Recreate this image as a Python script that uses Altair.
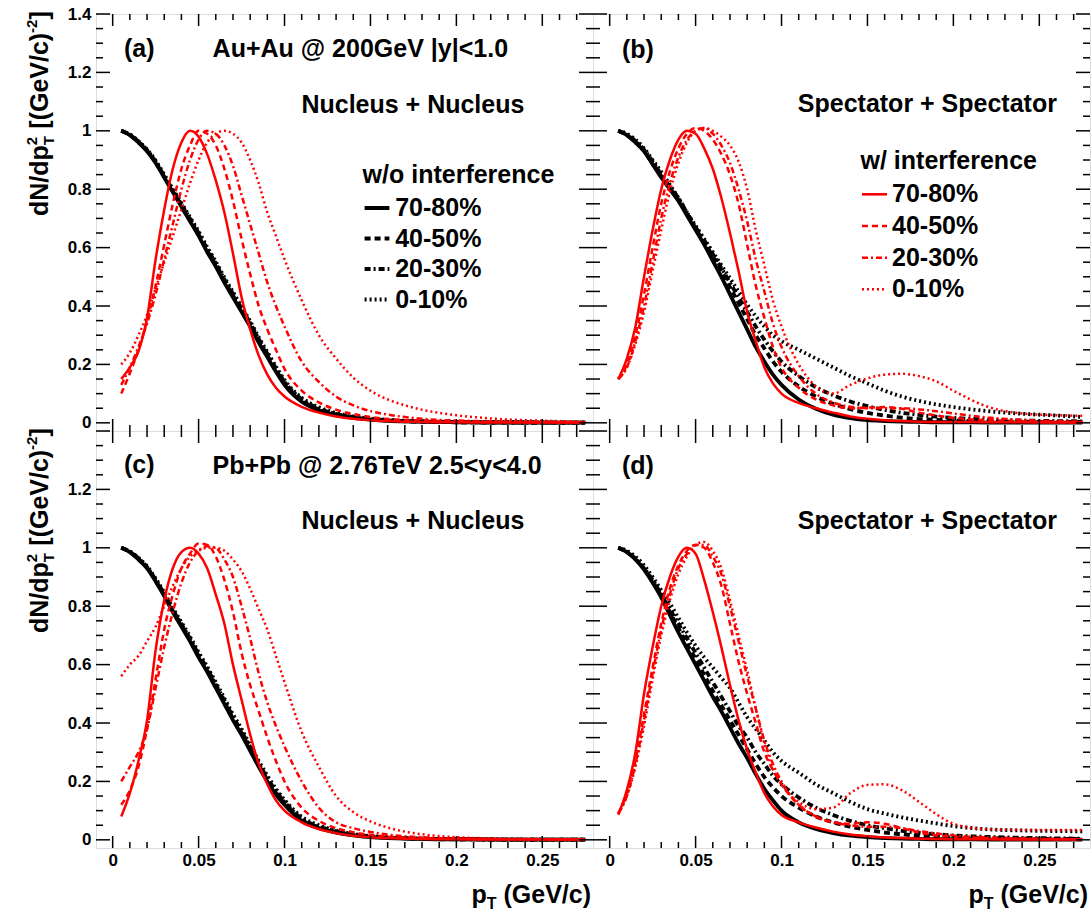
import altair as alt
import pandas as pd

# ---------------- data ----------------
PT = [0.005, 0.01, 0.015, 0.02, 0.025, 0.03, 0.035, 0.04, 0.045, 0.05,
      0.055, 0.06, 0.065, 0.07, 0.075, 0.08, 0.085, 0.09, 0.095, 0.1,
      0.11, 0.12, 0.13, 0.14, 0.15, 0.16, 0.17, 0.18, 0.19, 0.2,
      0.22, 0.24, 0.26, 0.275]

CENTS = ["70-80%", "40-50%", "20-30%", "0-10%"]

# (a) Au+Au Nucleus + Nucleus
A_BLK_7080 = [1.0, 0.985, 0.96, 0.93, 0.89, 0.84, 0.79, 0.74, 0.69, 0.64, 0.585, 0.535, 0.48, 0.43, 0.38, 0.33, 0.275, 0.225, 0.175, 0.13, 0.072, 0.043, 0.027, 0.017, 0.011, 0.007, 0.005, 0.004, 0.003, 0.002, 0.001, 0.001, 0.001, 0.001]
A_BLK_4050 = [1.0, 0.986, 0.962, 0.932, 0.892, 0.843, 0.793, 0.744, 0.694, 0.645, 0.59, 0.54, 0.486, 0.436, 0.386, 0.336, 0.281, 0.231, 0.181, 0.136, 0.077, 0.046, 0.029, 0.018, 0.012, 0.008, 0.005, 0.004, 0.003, 0.002, 0.001, 0.001, 0.001, 0.001]
A_BLK_2030 = [1.0, 0.987, 0.963, 0.934, 0.895, 0.846, 0.797, 0.748, 0.699, 0.65, 0.596, 0.546, 0.492, 0.442, 0.392, 0.342, 0.287, 0.237, 0.187, 0.141, 0.081, 0.049, 0.031, 0.02, 0.013, 0.009, 0.006, 0.004, 0.003, 0.002, 0.002, 0.001, 0.001, 0.001]
A_BLK_010 = [1.0, 0.988, 0.965, 0.936, 0.898, 0.85, 0.801, 0.753, 0.704, 0.656, 0.602, 0.552, 0.498, 0.448, 0.398, 0.348, 0.293, 0.243, 0.193, 0.147, 0.086, 0.053, 0.034, 0.022, 0.015, 0.01, 0.007, 0.005, 0.004, 0.003, 0.002, 0.002, 0.001, 0.001]
A_RED_7080 = [0.15, 0.19, 0.245, 0.36, 0.56, 0.73, 0.87, 0.96, 1.0, 0.98, 0.92, 0.83, 0.72, 0.58, 0.43, 0.32, 0.23, 0.165, 0.12, 0.09, 0.055, 0.035, 0.022, 0.014, 0.009, 0.006, 0.004, 0.003, 0.002, 0.002, 0.001, 0.001, 0.001, 0.001]
A_RED_4050 = [0.10, 0.17, 0.25, 0.35, 0.47, 0.61, 0.75, 0.87, 0.95, 1.0, 0.99, 0.95, 0.87, 0.76, 0.63, 0.51, 0.40, 0.32, 0.25, 0.185, 0.11, 0.07, 0.045, 0.03, 0.02, 0.013, 0.009, 0.007, 0.005, 0.004, 0.003, 0.002, 0.002, 0.001]
A_RED_2030 = [0.13, 0.19, 0.26, 0.34, 0.44, 0.56, 0.68, 0.8, 0.9, 0.97, 1.0, 0.99, 0.95, 0.88, 0.78, 0.68, 0.58, 0.48, 0.40, 0.33, 0.21, 0.14, 0.09, 0.06, 0.04, 0.028, 0.02, 0.014, 0.01, 0.008, 0.005, 0.003, 0.002, 0.002]
A_RED_010 = [0.2, 0.24, 0.3, 0.37, 0.46, 0.55, 0.64, 0.73, 0.82, 0.9, 0.96, 0.99, 1.0, 0.99, 0.96, 0.9, 0.82, 0.72, 0.64, 0.56, 0.42, 0.3, 0.22, 0.155, 0.11, 0.08, 0.06, 0.045, 0.034, 0.026, 0.015, 0.009, 0.006, 0.004]

# (b) Au+Au Spectator + Spectator
B_BLK_7080 = [1.0, 0.985, 0.96, 0.93, 0.885, 0.84, 0.8, 0.76, 0.71, 0.66, 0.61, 0.555, 0.5, 0.44, 0.38, 0.32, 0.26, 0.21, 0.165, 0.13, 0.08, 0.048, 0.028, 0.016, 0.009, 0.006, 0.004, 0.003, 0.002, 0.002, 0.001, 0.001, 0.001, 0.001]
B_BLK_4050 = [1.0, 0.985, 0.962, 0.932, 0.89, 0.845, 0.805, 0.765, 0.715, 0.665, 0.62, 0.57, 0.52, 0.465, 0.41, 0.355, 0.3, 0.255, 0.21, 0.175, 0.125, 0.09, 0.065, 0.047, 0.034, 0.025, 0.018, 0.013, 0.01, 0.008, 0.005, 0.004, 0.003, 0.003]
B_BLK_2030 = [1.0, 0.987, 0.965, 0.935, 0.895, 0.85, 0.81, 0.77, 0.72, 0.67, 0.625, 0.578, 0.53, 0.48, 0.43, 0.38, 0.33, 0.285, 0.245, 0.21, 0.16, 0.122, 0.095, 0.073, 0.057, 0.044, 0.034, 0.027, 0.021, 0.017, 0.011, 0.008, 0.006, 0.005]
B_BLK_010 = [1.0, 0.99, 0.97, 0.94, 0.9, 0.86, 0.815, 0.77, 0.72, 0.675, 0.63, 0.585, 0.54, 0.495, 0.45, 0.405, 0.365, 0.33, 0.3, 0.28, 0.25, 0.22, 0.19, 0.16, 0.135, 0.11, 0.09, 0.075, 0.063, 0.054, 0.04, 0.031, 0.025, 0.02]
B_RED_7080 = [0.15, 0.22, 0.33, 0.5, 0.66, 0.8, 0.9, 0.97, 1.0, 0.99, 0.94, 0.87, 0.77, 0.65, 0.52, 0.38, 0.28, 0.19, 0.135, 0.1, 0.068, 0.05, 0.035, 0.022, 0.014, 0.009, 0.006, 0.004, 0.003, 0.003, 0.002, 0.002, 0.001, 0.001]
B_RED_4050 = [0.15, 0.2, 0.3, 0.44, 0.6, 0.75, 0.86, 0.94, 0.99, 1.01, 1.0, 0.97, 0.92, 0.85, 0.75, 0.61, 0.47, 0.36, 0.26, 0.19, 0.12, 0.08, 0.06, 0.05, 0.052, 0.054, 0.048, 0.035, 0.025, 0.017, 0.009, 0.005, 0.003, 0.002]
B_RED_2030 = [0.15, 0.19, 0.28, 0.4, 0.55, 0.7, 0.82, 0.91, 0.97, 1.0, 1.01, 0.99, 0.95, 0.89, 0.8, 0.69, 0.56, 0.45, 0.34, 0.26, 0.16, 0.1, 0.07, 0.055, 0.05, 0.05, 0.05, 0.046, 0.04, 0.032, 0.018, 0.01, 0.006, 0.004]
B_RED_010 = [0.15, 0.19, 0.27, 0.38, 0.52, 0.66, 0.79, 0.89, 0.96, 1.0, 1.01, 1.0, 0.98, 0.95, 0.895, 0.8, 0.66, 0.54, 0.42, 0.33, 0.2, 0.125, 0.1, 0.13, 0.152, 0.165, 0.168, 0.16, 0.142, 0.11, 0.055, 0.032, 0.026, 0.024]

# (c) Pb+Pb Nucleus + Nucleus
C_BLK_7080 = [1.0, 0.985, 0.96, 0.93, 0.885, 0.835, 0.78, 0.73, 0.68, 0.625, 0.575, 0.52, 0.465, 0.41, 0.36, 0.305, 0.25, 0.2, 0.155, 0.12, 0.065, 0.04, 0.025, 0.015, 0.009, 0.006, 0.004, 0.003, 0.002, 0.002, 0.001, 0.001, 0.001, 0.001]
C_BLK_4050 = [1.0, 0.986, 0.962, 0.932, 0.888, 0.838, 0.784, 0.734, 0.684, 0.63, 0.58, 0.526, 0.471, 0.416, 0.366, 0.311, 0.256, 0.206, 0.161, 0.125, 0.069, 0.043, 0.027, 0.016, 0.01, 0.007, 0.005, 0.003, 0.002, 0.002, 0.001, 0.001, 0.001, 0.001]
C_BLK_2030 = [1.0, 0.987, 0.964, 0.934, 0.891, 0.842, 0.788, 0.739, 0.689, 0.636, 0.586, 0.532, 0.477, 0.422, 0.372, 0.317, 0.262, 0.212, 0.167, 0.13, 0.073, 0.046, 0.029, 0.018, 0.011, 0.008, 0.005, 0.004, 0.003, 0.002, 0.001, 0.001, 0.001, 0.001]
C_BLK_010 = [1.0, 0.988, 0.966, 0.937, 0.895, 0.847, 0.794, 0.745, 0.696, 0.643, 0.593, 0.54, 0.485, 0.43, 0.38, 0.325, 0.27, 0.22, 0.175, 0.137, 0.079, 0.05, 0.032, 0.02, 0.013, 0.009, 0.006, 0.004, 0.003, 0.002, 0.002, 0.001, 0.001, 0.001]
C_RED_7080 = [0.08, 0.16, 0.27, 0.41, 0.65, 0.82, 0.93, 0.985, 1.0, 0.98, 0.93, 0.84, 0.74, 0.6, 0.48, 0.36, 0.26, 0.19, 0.135, 0.1, 0.06, 0.037, 0.023, 0.014, 0.009, 0.006, 0.004, 0.003, 0.002, 0.002, 0.001, 0.001, 0.001, 0.001]
C_RED_4050 = [0.12, 0.17, 0.25, 0.38, 0.55, 0.72, 0.84, 0.93, 0.98, 1.015, 1.01, 0.97, 0.89, 0.78, 0.64, 0.53, 0.44, 0.35, 0.27, 0.2, 0.11, 0.065, 0.04, 0.026, 0.017, 0.011, 0.008, 0.006, 0.004, 0.003, 0.002, 0.002, 0.001, 0.001]
C_RED_2030 = [0.2, 0.25, 0.3, 0.38, 0.52, 0.66, 0.78, 0.88, 0.95, 0.99, 1.005, 1.0, 0.96, 0.9, 0.8, 0.69, 0.57, 0.47, 0.39, 0.32, 0.2, 0.11, 0.06, 0.04, 0.027, 0.018, 0.012, 0.009, 0.006, 0.005, 0.003, 0.002, 0.002, 0.001]
C_RED_010 = [0.56, 0.6, 0.63, 0.68, 0.73, 0.8, 0.87, 0.93, 0.97, 0.99, 1.0, 1.0, 0.99, 0.96, 0.92, 0.86, 0.79, 0.72, 0.63, 0.54, 0.37, 0.25, 0.15, 0.095, 0.063, 0.042, 0.028, 0.019, 0.013, 0.009, 0.005, 0.003, 0.002, 0.002]

# (d) Pb+Pb Spectator + Spectator
D_BLK_7080 = [1.0, 0.985, 0.96, 0.925, 0.88, 0.83, 0.77, 0.71, 0.655, 0.6, 0.545, 0.49, 0.44, 0.385, 0.33, 0.28, 0.225, 0.175, 0.135, 0.1, 0.06, 0.037, 0.023, 0.014, 0.009, 0.006, 0.004, 0.003, 0.002, 0.002, 0.001, 0.001, 0.001, 0.001]
D_BLK_4050 = [1.0, 0.985, 0.96, 0.928, 0.885, 0.835, 0.78, 0.725, 0.67, 0.62, 0.565, 0.51, 0.46, 0.41, 0.36, 0.31, 0.26, 0.215, 0.18, 0.15, 0.11, 0.08, 0.06, 0.045, 0.034, 0.025, 0.019, 0.014, 0.011, 0.008, 0.005, 0.004, 0.003, 0.003]
D_BLK_2030 = [1.0, 0.987, 0.963, 0.93, 0.89, 0.84, 0.79, 0.74, 0.69, 0.64, 0.59, 0.54, 0.49, 0.44, 0.39, 0.35, 0.3, 0.26, 0.22, 0.19, 0.145, 0.11, 0.085, 0.065, 0.05, 0.04, 0.031, 0.024, 0.019, 0.015, 0.01, 0.007, 0.005, 0.004]
D_BLK_010 = [1.0, 0.99, 0.97, 0.94, 0.9, 0.855, 0.81, 0.76, 0.71, 0.665, 0.625, 0.59, 0.555, 0.52, 0.47, 0.42, 0.38, 0.34, 0.3, 0.27, 0.23, 0.19, 0.16, 0.13, 0.105, 0.09, 0.077, 0.066, 0.056, 0.047, 0.036, 0.032, 0.03, 0.029]
D_RED_7080 = [0.086, 0.17, 0.3, 0.5, 0.66, 0.8, 0.9, 0.97, 1.0, 0.98, 0.89, 0.78, 0.66, 0.53, 0.41, 0.31, 0.23, 0.16, 0.115, 0.085, 0.06, 0.042, 0.028, 0.018, 0.012, 0.008, 0.006, 0.004, 0.003, 0.002, 0.002, 0.001, 0.001, 0.001]
D_RED_4050 = [0.09, 0.16, 0.27, 0.43, 0.59, 0.74, 0.86, 0.94, 0.99, 1.01, 1.0, 0.95, 0.87, 0.74, 0.61, 0.5, 0.4, 0.3, 0.24, 0.19, 0.12, 0.08, 0.06, 0.055, 0.06, 0.055, 0.04, 0.025, 0.015, 0.01, 0.005, 0.003, 0.002, 0.002]
D_RED_2030 = [0.09, 0.15, 0.26, 0.41, 0.57, 0.72, 0.84, 0.93, 0.98, 1.01, 1.01, 0.97, 0.91, 0.8, 0.68, 0.56, 0.45, 0.34, 0.26, 0.2, 0.12, 0.08, 0.06, 0.05, 0.045, 0.045, 0.04, 0.03, 0.022, 0.015, 0.008, 0.005, 0.003, 0.002]
D_RED_010 = [0.09, 0.15, 0.25, 0.39, 0.55, 0.7, 0.82, 0.91, 0.97, 1.01, 1.02, 0.99, 0.93, 0.82, 0.7, 0.58, 0.45, 0.33, 0.24, 0.19, 0.13, 0.105, 0.11, 0.16, 0.188, 0.19, 0.17, 0.13, 0.088, 0.055, 0.036, 0.034, 0.034, 0.034]

# axis ticks
X_MAJOR = [0, 0.05, 0.1, 0.15, 0.2, 0.25]
X_MINOR = [0.01, 0.02, 0.03, 0.04, 0.06, 0.07, 0.08, 0.09, 0.11, 0.12, 0.13, 0.14,
           0.16, 0.17, 0.18, 0.19, 0.21, 0.22, 0.23, 0.24, 0.26, 0.27]
Y_MAJOR = [0, 0.2, 0.4, 0.6, 0.8, 1.0, 1.2, 1.4]
Y_MINOR = [0.05, 0.1, 0.15, 0.25, 0.3, 0.35, 0.45, 0.5, 0.55, 0.65, 0.7, 0.75,
           0.85, 0.9, 0.95, 1.05, 1.1, 1.15, 1.25, 1.3, 1.35]

# ---------------- styling ----------------
FONT = "Liberation Sans"
W, H = 497, 417
XDOM = [-0.0097, 0.2795]
YDOM = [-0.028, 1.4]
RED = "#ff0000"
DASH = {"70-80%": None, "40-50%": [6, 4], "20-30%": [6, 3, 2, 3], "0-10%": [2, 3]}
ONE = pd.DataFrame({"k": [0]})

xs = alt.Scale(domain=XDOM, nice=False, zero=False)
ys = alt.Scale(domain=YDOM, nice=False, zero=False)


def text(s, px, py, size=25, align="left", angle=0):
    return alt.Chart(ONE).mark_text(
        text=s, font=FONT, fontWeight="bold", fontSize=size, align=align,
        baseline="alphabetic", angle=angle, color="black"
    ).encode(x=alt.value(px), y=alt.value(py))


def seg(x1, x2, yy, color, width, cent):
    kw = dict(color=color, strokeWidth=width)
    if DASH[cent]:
        kw["strokeDash"] = DASH[cent]
    return alt.Chart(ONE).mark_rule(**kw).encode(
        x=alt.value(x1), x2=alt.value(x2), y=alt.value(yy))


def panel(blk, red, bottom, left, top_row, labels, legend=None, anchor=False):
    xaxis = alt.Axis(values=X_MAJOR, format="~g", ticks=False, domain=False, grid=False,
                     labelFont=FONT, labelFontWeight="bold", labelFontSize=17,
                     labelColor="black", labelPadding=4, labelFlush=False,
                     labelOverlap=False, title=None) if bottom else None
    yvals = Y_MAJOR if top_row else Y_MAJOR[:-1]
    yaxis = alt.Axis(values=yvals, format="~g", ticks=False, domain=False, grid=False,
                     labelFont=FONT, labelFontWeight="bold", labelFontSize=17,
                     labelColor="black", labelPadding=5, labelFlush=False,
                     labelOverlap=False, title=None) if left else None

    def X(f):
        return alt.X(f, scale=xs, axis=xaxis)

    def Y(f):
        return alt.Y(f, scale=ys, axis=yaxis)

    layers = []
    for vals, cent in zip(blk, CENTS):
        kw = dict(color="black", strokeWidth=3.8, interpolate="monotone", clip=True)
        if DASH[cent]:
            kw["strokeDash"] = DASH[cent]
        layers.append(alt.Chart(pd.DataFrame({"pt": PT, "v": vals}))
                      .mark_line(**kw).encode(x=X("pt:Q"), y=Y("v:Q")))
    for vals, cent in zip(red, CENTS):
        kw = dict(color=RED, strokeWidth=2.5, interpolate="monotone", clip=True)
        if DASH[cent]:
            kw["strokeDash"] = DASH[cent]
        layers.append(alt.Chart(pd.DataFrame({"pt": PT, "v": vals}))
                      .mark_line(**kw).encode(x=X("pt:Q"), y=Y("v:Q")))

    # inward ticks on all four sides
    for vals, L in [(X_MAJOR, 12), (X_MINOR, 6)]:
        d = pd.DataFrame({"t": vals})
        layers.append(alt.Chart(d).mark_rule(color="black", strokeWidth=1.5)
                      .encode(x=X("t:Q"), y=alt.value(H), y2=alt.value(H - L)))
        layers.append(alt.Chart(d).mark_rule(color="black", strokeWidth=1.5)
                      .encode(x=X("t:Q"), y=alt.value(0), y2=alt.value(L)))
    for vals, L in [(Y_MAJOR, 14), (Y_MINOR, 7)]:
        d = pd.DataFrame({"t": vals})
        layers.append(alt.Chart(d).mark_rule(color="black", strokeWidth=1.5)
                      .encode(y=Y("t:Q"), x=alt.value(0), x2=alt.value(L)))
        layers.append(alt.Chart(d).mark_rule(color="black", strokeWidth=1.5)
                      .encode(y=Y("t:Q"), x=alt.value(W), x2=alt.value(W - L)))

    for s, px, py in labels:
        layers.append(text(s, px, py))

    if legend is not None:
        title, tx, ty, color, width, lx1, lx2, ly, ltx = legend
        layers.append(text(title, tx, ty))
        for cent, yy in zip(CENTS, ly):
            layers.append(seg(lx1, lx2, yy, color, width, cent))
            layers.append(text(cent, ltx, yy + 8))

    if left:
        # y title: dN/dp_T^2 [(GeV/c)^-2], reading upward
        bx = -48
        y0 = 202
        layers.append(text("dN/dp", bx, y0, 25, angle=270))
        y1 = y0 - 70.8
        layers.append(text("2", bx - 11, y1, 15, angle=270))
        layers.append(text("T", bx + 6, y1, 15, angle=270))
        y2 = y1 - 9.5 - 7
        layers.append(text("[(GeV/c)", bx, y2, 25, angle=270))
        y3 = y2 - 95.8
        layers.append(text("-2", bx - 11, y3, 15, angle=270))
        y4 = y3 - 13.3
        layers.append(text("]", bx, y4, 25, angle=270))

    if bottom:
        layers.append(text("(GeV/c)", 495, 472, 25, align="right"))
        layers.append(text("T", 400.5, 478, 16, align="right"))
        layers.append(text("p", 390.7, 472, 25, align="right"))

    if anchor:
        layers.append(alt.Chart(ONE).mark_rule(color="white", strokeWidth=1).encode(
            x=alt.value(-94.5), x2=alt.value(-93.5), y=alt.value(-12.5)))

    return alt.layer(*layers).properties(width=W, height=H)


pa = panel([A_BLK_7080, A_BLK_4050, A_BLK_2030, A_BLK_010],
           [A_RED_7080, A_RED_4050, A_RED_2030, A_RED_010],
           bottom=False, left=True, top_row=True,
           labels=[("(a)", 28, 43), ("Au+Au @ 200GeV |y|<1.0", 116.6, 43),
                   ("Nucleus + Nucleus", 205.4, 99)],
           legend=("w/o interference", 266.6, 168.7, "black", 4, 268.6, 293.4,
                   [194, 224.5, 255, 285.5], 299.2),
           anchor=True)

pb = panel([B_BLK_7080, B_BLK_4050, B_BLK_2030, B_BLK_010],
           [B_RED_7080, B_RED_4050, B_RED_2030, B_RED_010],
           bottom=False, left=False, top_row=True,
           labels=[("(b)", 29, 43.5), ("Spectator + Spectator", 204.8, 98)],
           legend=("w/ interference", 267.5, 155.3, RED, 2.6, 269, 294,
                   [180.3, 212, 243.7, 275.3], 299))

pc = panel([C_BLK_7080, C_BLK_4050, C_BLK_2030, C_BLK_010],
           [C_RED_7080, C_RED_4050, C_RED_2030, C_RED_010],
           bottom=True, left=True, top_row=False,
           labels=[("(c)", 28, 42), ("Pb+Pb @ 2.76TeV 2.5<y<4.0", 116.6, 43),
                   ("Nucleus + Nucleus", 205.4, 98)])

pd_ = panel([D_BLK_7080, D_BLK_4050, D_BLK_2030, D_BLK_010],
            [D_RED_7080, D_RED_4050, D_RED_2030, D_RED_010],
            bottom=True, left=False, top_row=False,
            labels=[("(d)", 29, 43), ("Spectator + Spectator", 204.8, 98)])

chart = alt.concat(pa, pb, pc, pd_, columns=2, spacing=0, bounds="flush").properties(
    padding={"left": 0, "top": 0, "right": 0, "bottom": 0}
).configure_view(stroke="black", strokeWidth=2.5).configure(background="white")

chart.save("out.html", embed_options={"renderer": "svg", "actions": False})
